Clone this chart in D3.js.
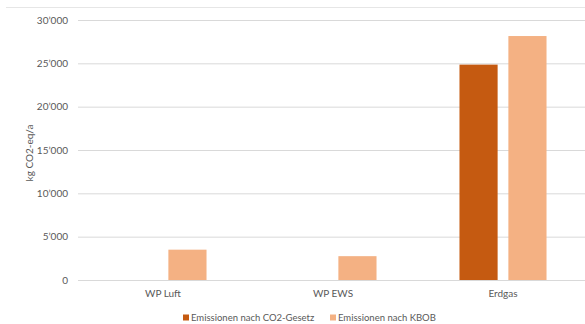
<!DOCTYPE html>
<html><head><meta charset="utf-8">
<script src="https://cdn.jsdelivr.net/npm/d3@7"></script>
<style>body{margin:0;background:#fff}svg{display:block}text{font-family:Lato,"Open Sans",sans-serif;fill:#595959}</style>
</head><body><svg id="c" width="585" height="324"></svg>
<script>
const categories = ["WP Luft", "WP EWS", "Erdgas"];
const seriesNames = ["Emissionen nach CO2-Gesetz", "Emissionen nach KBOB"];
const co2Gesetz = [0, 0, 24850];
const kbob = [3500, 2750, 28150];
const yTicks = [0, 5000, 10000, 15000, 20000, 25000, 30000];
const colors = ["#C55A11", "#F4B183"];

(function () {
const svg = d3.select("#c");
const W = 585, H = 324;
const mLeft = 78, mRight = 588, mTop = 20, mBottom = 280;

svg.append("line").attr("x1", 6).attr("x2", W).attr("y1", 7.5).attr("y2", 7.5)
  .attr("stroke", "#e6e6e6").attr("stroke-width", 1);

const y = d3.scaleLinear().domain([0, 30000]).range([mBottom, mTop]);
const x0 = d3.scaleBand().domain(categories).range([mLeft, mRight]).paddingInner(0.488).paddingOuter(0.244);
const x1 = d3.scaleBand().domain(seriesNames).range([0, x0.bandwidth()]).paddingInner(0.22);

const fmt = v => v === 0 ? "0" : d3.format(",")(v).replace(/,/g, "\u2019");

const yAxis = d3.axisLeft(y).tickValues(yTicks).tickSize(-(W - mLeft)).tickFormat(fmt).tickPadding(10);
const ga = svg.append("g").attr("transform", `translate(${mLeft},0)`).call(yAxis);
ga.select(".domain").remove();
ga.selectAll(".tick line").attr("stroke", "#d9d9d9").attr("stroke-width", 1);
ga.selectAll(".tick text").attr("font-size", 10).attr("fill", "#595959").style("font-family", "Lato, sans-serif");

const data = categories.map((c, i) => ({cat: c, vals: [co2Gesetz[i], kbob[i]]}));
const groups = svg.append("g").selectAll("g").data(data).join("g")
  .attr("transform", d => `translate(${x0(d.cat)},0)`);
groups.selectAll("rect").data(d => d.vals.map((v, j) => ({v, s: seriesNames[j], j})))
  .join("rect")
  .attr("x", d => x1(d.s)).attr("width", x1.bandwidth())
  .attr("y", d => y(d.v)).attr("height", d => y(0) - y(d.v))
  .attr("fill", d => colors[d.j]);

const xAxis = d3.axisBottom(x0).tickSize(0).tickPadding(10);
const gx = svg.append("g").attr("transform", `translate(0,${mBottom})`).call(xAxis);
gx.select(".domain").attr("stroke", "#d9d9d9").attr("d", `M${mLeft},0.5H${W}`);
gx.selectAll(".tick text").attr("font-size", 10).attr("fill", "#595959").style("font-family", "Lato, sans-serif");

svg.append("text").attr("transform", `translate(33,153) rotate(-90)`)
  .attr("text-anchor", "middle").attr("font-size", 10).text("kg CO2-eq/a");

const legX = [183, 330];
const leg = svg.append("g").selectAll("g").data(seriesNames).join("g")
  .attr("transform", (d, i) => `translate(${legX[i]},318)`);
leg.append("rect").attr("x", 0).attr("y", -3.5).attr("width", 6).attr("height", 6).attr("fill", (d, i) => colors[i]);
leg.append("text").attr("x", 8).attr("y", 0).attr("dy", "0.35em").attr("font-size", 9.5).text(d => d);
})();
</script></body></html>
